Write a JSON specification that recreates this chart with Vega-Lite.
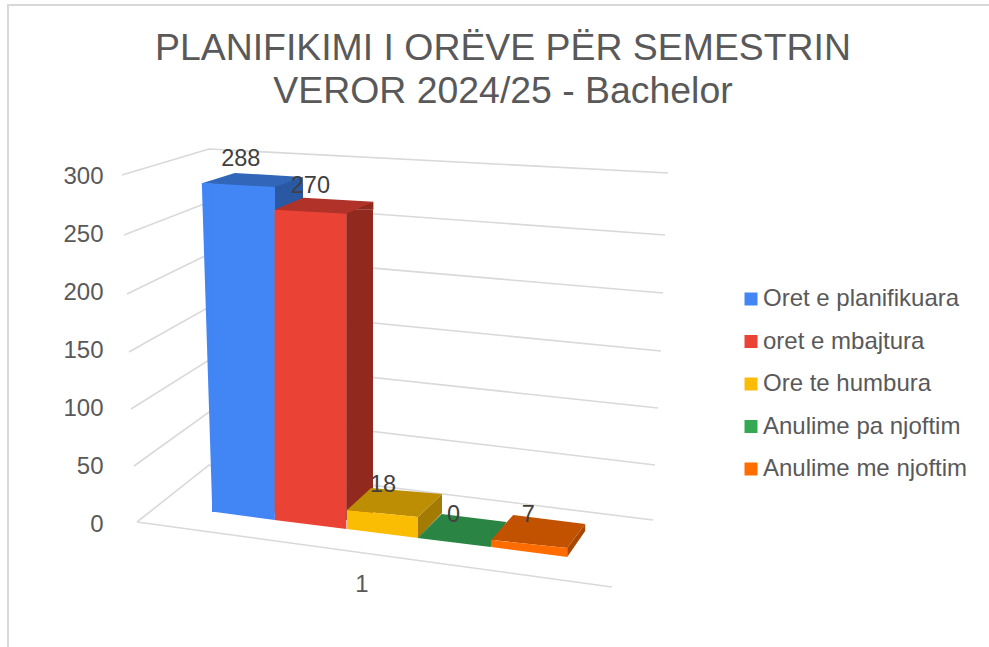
{"$schema":"https://vega.github.io/schema/vega-lite/v6.json","width":358,"height":348,"autosize":{"type":"none"},"padding":{"left":203,"top":174,"right":428,"bottom":125},"background":"white",
"title":{"text":["PLANIFIKIMI I ORËVE PËR SEMESTRIN","VEROR 2024/25 - Bachelor"],"font":"Liberation Sans","fontSize":37.4,"fontWeight":"normal","color":"#595959","anchor":"middle","dx":121,"offset":-109,"lineHeight":43},
"config":{"view":{"stroke":null},"axis":{"labelFont":"Liberation Sans","labelFontSize":24,"labelColor":"#595959"},"legend":{"labelFont":"Liberation Sans"}},
"data":{"name":"bars","values":[{"category":"1","series":"Oret e planifikuara","value":288},{"category":"1","series":"oret e mbajtura","value":270},{"category":"1","series":"Ore te humbura","value":18},{"category":"1","series":"Anulime pa njoftim","value":0},{"category":"1","series":"Anulime me njoftim","value":7}]},
"resolve":{"scale":{"color":"independent","shape":"independent"}},
"layer":[
{"data":{"values":[{"frame":"outer"}]},"mark":{"type":"point","filled":false,"opacity":1,"size":4,"stroke":"#d9d9d9","strokeWidth":2,"shape":"M-374,299L-374,-343L607,-343"},"encoding":{}},
{"data":{"values":[{"tick":0},{"tick":50},{"tick":100},{"tick":150},{"tick":200},{"tick":250},{"tick":300}]},"mark":{"type":"point","filled":false,"opacity":1,"size":4,"stroke":"#d9d9d9","strokeWidth":1.6},"encoding":{"y":{"field":"tick","type":"quantitative","stack":null,"scale":{"domain":[0,300],"nice":false},"axis":{"title":null,"values":[0,50,100,150,200,250,300],"grid":false,"ticks":false,"domain":false,"labelPadding":100,"labelOffset":2}},"shape":{"field":"tick","type":"ordinal","legend":null,"scale":{"domain":[0,50,100,150,200,250,300],"range":["M-245,0L-173,-57L271,-2M-245,0L230,65","M-248,2L-173,-52L273,1","M-251,3L-173,-46L276,2","M-253,4L-173,-41L279,3","M-255,4L-173,-36L281,3","M-258,3L-173,-30L283,3","M-260,1L-173,-25L286,-1"]}}}},
{"transform":[{"filter":"datum.series == 'Oret e planifikuara'"}],"mark":{"type":"bar","width":28.4,"xOffset":-93.2,"yOffset":-5,"y2Offset":-8,"color":"#2b58a3"},"encoding":{"x":{"field":"category","type":"nominal","scale":{"paddingInner":0,"paddingOuter":0},"axis":{"title":null,"labelAngle":0,"ticks":false,"domain":false,"labelOffset":-20,"labelPadding":50}},"y":{"field":"value","type":"quantitative","stack":null},"y2":{"datum":0}}},
{"transform":[{"filter":"datum.series == 'oret e mbajtura'"}],"mark":{"type":"bar","width":26.8,"xOffset":-22.4,"yOffset":1,"y2Offset":-2,"color":"#92291f"},"encoding":{"x":{"field":"category","type":"nominal"},"y":{"field":"value","type":"quantitative","stack":null},"y2":{"datum":0}}},
{"transform":[{"filter":"datum.series != 'Anulime pa njoftim'"}],"mark":{"type":"point","filled":true,"opacity":1,"size":4,"strokeWidth":0},"encoding":{"x":{"field":"category","type":"nominal"},"xOffset":{"field":"series","type":"nominal","scale":{"domain":["Oret e planifikuara","oret e mbajtura","Ore te humbura","Anulime pa njoftim","Anulime me njoftim"],"paddingInner":0,"paddingOuter":0}},"y":{"field":"value","type":"quantitative","stack":null},"color":{"field":"series","type":"nominal","legend":null,"scale":{"domain":["Oret e planifikuara","oret e mbajtura","Ore te humbura","Anulime me njoftim"],"range":["#2b58a3","#92291f","#a37a02","#a84700"]}},"shape":{"field":"series","type":"nominal","legend":null,"scale":{"domain":["Oret e planifikuara","oret e mbajtura","Ore te humbura","Anulime me njoftim"],"range":["M36,-5L64,-11L64,-5Z","M36,1L63,-7L63,1Z","M36,16L60,-7L60,12L36,37Z","M42,34L60,10L60,17L42,43Z"]}}}},
{"transform":[{"filter":"datum.series == 'Oret e planifikuara'"}],"mark":{"type":"bar","width":63,"xOffset":-138.5,"yOffset":-5,"y2Offset":-10},"encoding":{"x":{"field":"category","type":"nominal"},"y":{"field":"value","type":"quantitative","stack":null},"y2":{"datum":0},"color":{"field":"series","type":"nominal","scale":{"domain":["Oret e planifikuara","oret e mbajtura","Ore te humbura","Anulime pa njoftim","Anulime me njoftim"],"range":["#4285f4","#ea4335","#fbbc04","#34a853","#ff6d01"]},"legend":{"orient":"none","legendX":536,"legendY":113,"title":null,"symbolType":"square","symbolSize":169,"symbolStrokeWidth":0,"labelFontSize":24,"labelColor":"#595959","labelOffset":0,"labelLimit":320,"rowPadding":18.5,"padding":0}}}},
{"transform":[{"filter":"datum.series == 'oret e mbajtura'"}],"mark":{"type":"bar","yOffset":1,"y2Offset":-2,"color":"#ea4335"},"encoding":{"x":{"field":"category","type":"nominal"},"xOffset":{"field":"series","type":"nominal"},"y":{"field":"value","type":"quantitative","stack":null},"y2":{"datum":0}}},
{"mark":{"type":"point","filled":true,"opacity":1,"size":4,"strokeWidth":0},"encoding":{"x":{"field":"category","type":"nominal"},"xOffset":{"field":"series","type":"nominal"},"y":{"field":"value","type":"quantitative","stack":null},"color":{"field":"series","type":"nominal","legend":null,"scale":{"domain":["Oret e planifikuara","oret e mbajtura","Ore te humbura","Anulime pa njoftim","Anulime me njoftim"],"range":["#3266b8","#b03228","#bd8e03","#2a8545","#c25200"]}},"shape":{"field":"series","type":"nominal","legend":null,"scale":{"domain":["Oret e planifikuara","oret e mbajtura","Ore te humbura","Anulime pa njoftim","Anulime me njoftim"],"range":["M-36,-5L36,-1L64,-11L-4,-15Z","M-36,1L36,5L63,-7L-7,-11Z","M-35,9L36,16L60,-7L-11,-13Z","M-36,16L37,25L53,0L-12,-8Z","M-34,26L42,34L60,10L-12,1Z"]}}}},
{"transform":[{"filter":"datum.series != 'Anulime pa njoftim'"}],"mark":{"type":"point","filled":true,"opacity":1,"size":4,"strokeWidth":0},"encoding":{"x":{"field":"category","type":"nominal"},"xOffset":{"field":"series","type":"nominal"},"y":{"datum":0,"type":"quantitative"},"color":{"field":"series","type":"nominal","legend":null,"scale":{"domain":["Oret e planifikuara","oret e mbajtura","Ore te humbura","Anulime me njoftim"],"range":["#4285f4","#ea4335","#fbbc04","#ff6d01"]}},"shape":{"field":"series","type":"nominal","legend":null,"scale":{"domain":["Oret e planifikuara","oret e mbajtura","Ore te humbura","Anulime me njoftim"],"range":["M-27,-10.5L36,-10.5L36,-2ZM-37,-339L-26.5,-339L-26.5,-10Z","M-36,-2L36,-2L36,7Z","M-35,-12L36,-5L36,16L-35,7Z","M-34,18L42,26L42,35L-34,25Z"]}}}},
{"transform":[{"filter":"datum.series == 'Oret e planifikuara'"}],"mark":{"type":"text","font":"Liberation Sans","fontSize":23.5,"color":"#404040","dy":-29,"dx":2,"baseline":"middle"},"encoding":{"x":{"field":"category","type":"nominal"},"xOffset":{"field":"series","type":"nominal"},"y":{"field":"value","type":"quantitative","stack":null},"text":{"field":"value","type":"quantitative"}}},
{"transform":[{"filter":"datum.series == 'oret e mbajtura'"}],"mark":{"type":"text","font":"Liberation Sans","fontSize":23.5,"color":"#404040","dy":-23,"dx":0,"baseline":"middle"},"encoding":{"x":{"field":"category","type":"nominal"},"xOffset":{"field":"series","type":"nominal"},"y":{"field":"value","type":"quantitative","stack":null},"text":{"field":"value","type":"quantitative"}}},
{"transform":[{"filter":"datum.series == 'Ore te humbura'"}],"mark":{"type":"text","font":"Liberation Sans","fontSize":23.5,"color":"#404040","dy":-16,"dx":1,"baseline":"middle"},"encoding":{"x":{"field":"category","type":"nominal"},"xOffset":{"field":"series","type":"nominal"},"y":{"field":"value","type":"quantitative","stack":null},"text":{"field":"value","type":"quantitative"}}},
{"transform":[{"filter":"datum.series == 'Anulime pa njoftim'"}],"mark":{"type":"text","font":"Liberation Sans","fontSize":23.5,"color":"#404040","dy":-7,"dx":0,"baseline":"middle"},"encoding":{"x":{"field":"category","type":"nominal"},"xOffset":{"field":"series","type":"nominal"},"y":{"field":"value","type":"quantitative","stack":null},"text":{"field":"value","type":"quantitative"}}},
{"transform":[{"filter":"datum.series == 'Anulime me njoftim'"}],"mark":{"type":"text","font":"Liberation Sans","fontSize":23.5,"color":"#404040","dy":1,"dx":3,"baseline":"middle"},"encoding":{"x":{"field":"category","type":"nominal"},"xOffset":{"field":"series","type":"nominal"},"y":{"field":"value","type":"quantitative","stack":null},"text":{"field":"value","type":"quantitative"}}}
]}
